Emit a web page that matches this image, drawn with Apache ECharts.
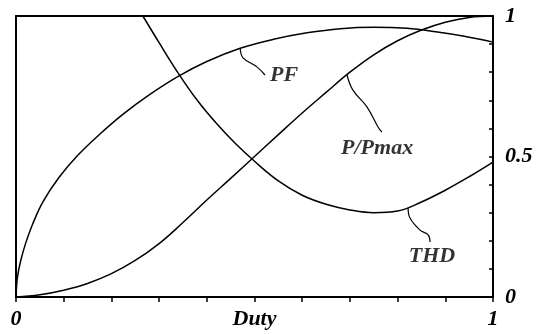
<!DOCTYPE html>
<html>
<head>
<meta charset="utf-8">
<script src="https://cdn.jsdelivr.net/npm/echarts@6/dist/echarts.min.js"></script>
<style>html,body{margin:0;padding:0;background:#fff;}#c{width:541px;height:334px;}</style>
</head>
<body>
<div id="c"></div>
<script>
// Data (x = duty, y = normalized value)
const pfData = [[0,0],[0.003,0.07],[0.01,0.13],[0.02,0.19],[0.035,0.26],[0.057,0.34],[0.09,0.425],[0.13,0.505],[0.176,0.58],[0.224,0.65],[0.28,0.72],[0.34,0.785],[0.40,0.838],[0.47,0.885],[0.54,0.917],[0.61,0.940],[0.68,0.955],[0.75,0.960],[0.82,0.956],[0.88,0.944],[0.94,0.928],[1.0,0.907]];
const thdData = [[0.266,1.0],[0.30,0.905],[0.34,0.797],[0.38,0.70],[0.42,0.618],[0.46,0.546],[0.50,0.483],[0.55,0.413],[0.60,0.362],[0.65,0.330],[0.70,0.310],[0.75,0.300],[0.80,0.306],[0.85,0.338],[0.90,0.380],[0.95,0.428],[1.0,0.48]];
const pData = [[0,0],[0.05,0.008],[0.10,0.024],[0.15,0.048],[0.20,0.083],[0.25,0.13],[0.30,0.19],[0.35,0.265],[0.40,0.345],[0.45,0.422],[0.50,0.50],[0.55,0.578],[0.60,0.655],[0.65,0.728],[0.70,0.80],[0.75,0.862],[0.80,0.912],[0.85,0.950],[0.90,0.978],[0.95,0.995],[1.0,1.0]];
// Annotation leader lines and label anchors
const pfLeader = [[0.47,0.885],[0.476,0.851],[0.505,0.819],[0.522,0.79]];
const pLeader = [[0.694,0.79],[0.706,0.737],[0.736,0.676],[0.759,0.605],[0.767,0.587]];
const thdLeader = [[0.822,0.317],[0.826,0.281],[0.847,0.238],[0.864,0.221],[0.868,0.196]];
const curveLabels = [{name:'PF', value:[0.562,0.79]},{name:'P/Pmax', value:[0.757,0.53]},{name:'THD', value:[0.872,0.146]}];
const xTickLabels = {0:'0', 0.5:'Duty', 1:'1'};
const yTickLabels = {0:'0', 0.5:'0.5', 1:'1'};

const font = {fontFamily:'Liberation Serif', fontWeight:'bold', fontStyle:'italic', fontSize:22, color:'#000'};
function pick(map, v){ for (const k in map){ if (Math.abs(v - Number(k)) < 1e-6) return map[k]; } return ''; }

const chart = echarts.init(document.getElementById('c'));
const lineS = (data, w) => ({type:'line', data, showSymbol:false, symbol:'none', smooth:0.4, lineStyle:{color:'#000', width:w}, animation:false, xAxisIndex:0, yAxisIndex:0});
chart.setOption({
  animation:false,
  backgroundColor:'#fff',
  grid:{left:16, right:48, top:16, bottom:37, containLabel:false},
  xAxis:[
    {type:'value', min:0, max:1, interval:0.1, position:'bottom',
     axisLine:{onZero:false, lineStyle:{color:'#000', width:2}},
     axisTick:{show:true, inside:false, length:5, lineStyle:{color:'#000', width:1.5}},
     splitLine:{show:false},
     axisLabel:Object.assign({margin:11, formatter:v=>pick(xTickLabels, v), showMinLabel:true, showMaxLabel:true}, font)},
    {type:'value', min:0, max:1, position:'top',
     axisLine:{show:true, onZero:false, lineStyle:{color:'#000', width:2}}, axisTick:{show:false}, axisLabel:{show:false}, splitLine:{show:false}}
  ],
  yAxis:[
    {type:'value', min:0, max:1, interval:0.1, position:'right',
     axisLine:{show:true, onZero:false, lineStyle:{color:'#000', width:2}},
     axisTick:{show:true, inside:true, length:4, lineStyle:{color:'#000', width:1.5}},
     splitLine:{show:false},
     axisLabel:Object.assign({margin:12, formatter:v=>pick(yTickLabels, v), showMinLabel:true, showMaxLabel:true}, font)},
    {type:'value', min:0, max:1, position:'left',
     axisLine:{show:true, onZero:false, lineStyle:{color:'#000', width:2}}, axisTick:{show:false}, axisLabel:{show:false}, splitLine:{show:false}}
  ],
  series:[
    lineS(pfData, 1.5),
    lineS(thdData, 1.5),
    lineS(pData, 1.5),
    lineS(pfLeader, 1.2),
    lineS(pLeader, 1.2),
    lineS(thdLeader, 1.2),
    {type:'scatter', data:curveLabels, symbolSize:1, itemStyle:{color:'rgba(0,0,0,0)'}, animation:false,
     label:Object.assign({show:true, position:'inside', formatter:p=>p.name}, font)}
  ]
});
</script>
</body>
</html>
